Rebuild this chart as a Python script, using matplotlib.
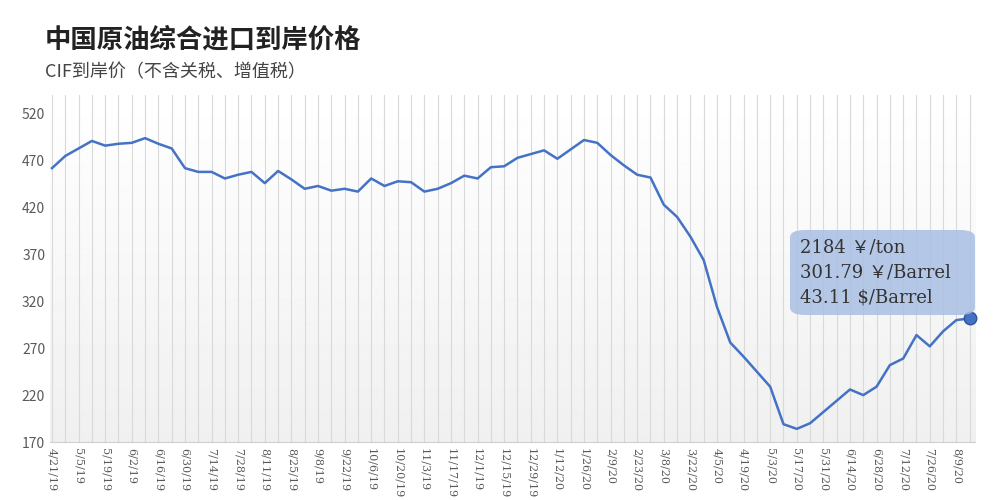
import matplotlib.pyplot as plt
import numpy as np
from datetime import date, timedelta
from matplotlib.patches import FancyBboxPatch

plt.rcParams['font.family'] = ['Noto Sans CJK SC', 'DejaVu Sans']

start = date(2019, 4, 21)
prices = [462, 475, 483, 491, 486, 488, 489, 494, 488, 483,
          462, 458, 458, 451, 455, 458, 446, 459, 450, 440,
          443, 438, 440, 437, 451, 443, 448, 447, 437, 440,
          446, 454, 451, 463, 464, 473, 477, 481, 472, 482,
          492, 489, 476, 465, 455, 452, 423, 410, 389, 364,
          314, 276, 261, 245, 229, 189, 184, 190, 202, 214,
          226, 220, 229, 252, 259, 284, 272, 288, 300, 301.79]
dates = [start + timedelta(weeks=i) for i in range(len(prices))]
labels = [f"{d.month}/{d.day}/{d.year % 100}" for d in dates]
note = ["2184 \uffe5/ton", "301.79 \uffe5/Barrel", "43.11 $/Barrel"]

fig = plt.figure(figsize=(10, 5), dpi=100)
ax = fig.add_axes([0.05, 0.116, 0.925, 0.694])
x = np.arange(len(prices))
ax.set_xlim(-0.15, len(prices) - 0.6)
ax.set_ylim(170, 540)

grad = np.linspace(1, 0.94, 256).reshape(-1, 1)
ax.imshow(grad, extent=[-0.15, len(prices) - 0.6, 170, 540], aspect='auto',
          cmap='gray', vmin=0, vmax=1, zorder=0, origin='upper')

for xi in x:
    ax.axvline(xi, color='#d9d9d9', lw=0.8, zorder=1)
ax.plot(x, prices, color='#4472c4', lw=1.8, zorder=3)
ax.plot(x[-1], prices[-1], 'o', ms=9, color='#4472c4', mec='#2f5597', zorder=4, clip_on=False)

ax.set_yticks(range(170, 521, 50))
ax.set_xticks(x[::2])
ax.set_xticklabels(labels[::2], rotation=270, fontsize=8, color='#595959', family='DejaVu Serif')
ax.tick_params(axis='y', labelsize=10, colors='#595959', length=0)
ax.tick_params(axis='x', length=0, pad=4)
for s in ['top', 'right', 'left']:
    ax.spines[s].set_visible(False)
ax.spines['bottom'].set_color('#d0d0d0')

box = FancyBboxPatch((0.79, 0.37), 0.185, 0.17, boxstyle="round,pad=0,rounding_size=0.015",
                     transform=fig.transFigure, facecolor='#a9bfe3', edgecolor='none', alpha=0.85)
fig.patches.append(box)
for i, t in enumerate(note):
    fig.text(0.8, 0.505 - i * 0.05, t, fontsize=13, color='#333333', va='center',
             family=['DejaVu Serif', 'Noto Sans CJK SC'])

fig.text(0.045, 0.905, "中国原油综合进口到岸价格", fontsize=19, fontweight='bold', color='#222222')
fig.text(0.045, 0.845, "CIF到岸价（不含关税、增值税）", fontsize=13, color='#444444')

fig.savefig("out.png")
